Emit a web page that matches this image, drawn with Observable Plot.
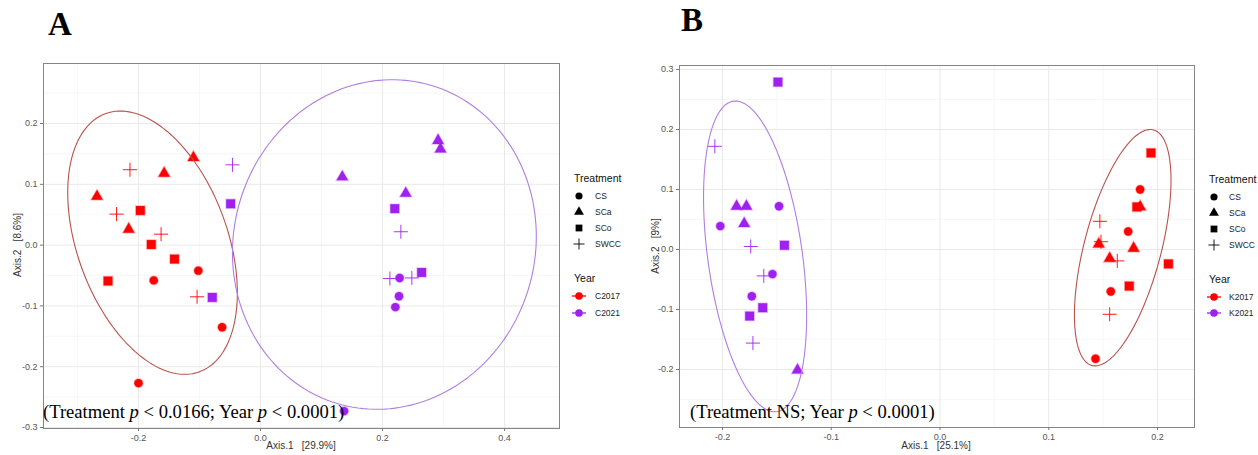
<!DOCTYPE html>
<html><head><meta charset="utf-8">
<script src="https://cdn.jsdelivr.net/npm/d3@7"></script>
<script src="https://cdn.jsdelivr.net/npm/@observablehq/plot@0.6"></script>
<style>
body{margin:0;background:#fff;}
#root{position:relative;width:1258px;height:455px;overflow:hidden;font-family:"Liberation Sans",Arial,sans-serif;}
#root > svg, #root > div{position:absolute;}
</style></head><body><div id="root"></div>
<script>
// ---------- shared categories ----------
const treatments = ["CS", "SCa", "SCo", "SWCC"];
const treatmentSymbols = ["circle", "triangle", "square", "plus"];
const red = "#ff0000", purple = "#a020f0";

// ---------- Panel A (C2017 / C2021) ----------
const yearsA = ["C2017", "C2021"];
const aTreatment = ["SCa","SCa","SCa","SCa","SWCC","SWCC","SWCC","SWCC","SCo","SCo","SCo","SCo","CS","CS","CS","CS",
                    "SWCC","SCo","SCo","SCa","SCa","SCa","SCa","SCo","SWCC","SCo","SWCC","SWCC","CS","CS","CS","CS"];
const aYear = ["C2017","C2017","C2017","C2017","C2017","C2017","C2017","C2017","C2017","C2017","C2017","C2017","C2017","C2017","C2017","C2017",
               "C2021","C2021","C2021","C2021","C2021","C2021","C2021","C2021","C2021","C2021","C2021","C2021","C2021","C2021","C2021","C2021"];
const aAxis1 = [-0.268,-0.216,-0.158,-0.110,-0.214,-0.236,-0.163,-0.104,-0.197,-0.179,-0.141,-0.250,-0.175,-0.102,-0.063,-0.200,
                -0.046,-0.049,-0.079,0.134,0.291,0.295,0.238,0.220,0.230,0.264,0.212,0.248,0.228,0.227,0.221,0.137];
const aAxis2 = [0.080,0.026,0.118,0.144,0.124,0.051,0.018,-0.085,0.057,0.001,-0.023,-0.059,-0.058,-0.042,-0.135,-0.227,
                0.132,0.068,-0.086,0.112,0.172,0.158,0.085,0.060,0.022,-0.045,-0.055,-0.054,-0.054,-0.084,-0.102,-0.273];
// 95% ellipses: centre, half-extents, correlation
const aEllYear = ["C2017", "C2021"];
const aEllCx = [-0.177, 0.203];
const aEllCy = [0.004, 0.001];
const aEllSx = [0.139, 0.249];
const aEllSy = [0.2165, 0.271];
const aEllRho = [-0.38, 0.05];
const aXTicks = [-0.2, 0.0, 0.2, 0.4];
const aXMinor = [-0.3, -0.1, 0.1, 0.3];
const aYTicks = [-0.3, -0.2, -0.1, 0.0, 0.1, 0.2];
const aYMinor = [-0.25, -0.15, -0.05, 0.05, 0.15, 0.25];

// ---------- Panel B (K2017 / K2021) ----------
const yearsB = ["K2017", "K2021"];
const bTreatment = ["SCo","SWCC","SCa","SCa","SCa","CS","CS","SWCC","SCo","SWCC","CS","CS","SCo","SCo","SWCC","SCa",
                    "SCo","CS","SCo","SCa","SWCC","CS","SCa","SWCC","SCa","SCa","SWCC","SCo","SCo","CS","SWCC","CS"];
const bYear = ["K2021","K2021","K2021","K2021","K2021","K2021","K2021","K2021","K2021","K2021","K2021","K2021","K2021","K2021","K2021","K2021",
               "K2017","K2017","K2017","K2017","K2017","K2017","K2017","K2017","K2017","K2017","K2017","K2017","K2017","K2017","K2017","K2017"];
const bAxis1 = [-0.149,-0.207,-0.187,-0.178,-0.180,-0.202,-0.148,-0.174,-0.143,-0.162,-0.154,-0.173,-0.163,-0.175,-0.172,-0.131,
                0.194,0.184,0.181,0.184,0.147,0.173,0.146,0.148,0.178,0.156,0.163,0.210,0.174,0.157,0.156,0.143];
const bAxis2 = [0.279,0.172,0.072,0.072,0.043,0.039,0.072,0.005,0.007,-0.044,-0.041,-0.078,-0.097,-0.111,-0.156,-0.201,
                0.161,0.100,0.071,0.071,0.047,0.030,0.009,0.013,0.002,-0.015,-0.019,-0.024,-0.061,-0.070,-0.108,-0.182];
const bEllYear = ["K2017", "K2021"];
const bEllCx = [0.168, -0.170];
const bEllCy = [0.003, -0.0115];
const bEllSx = [0.0444, 0.0474];
const bEllSy = [0.197, 0.259];
const bEllRho = [0.57, -0.38];
const bXTicks = [-0.2, -0.1, 0.0, 0.1, 0.2];
const bXMinor = [-0.15, -0.05, 0.05, 0.15];
const bYTicks = [-0.2, -0.1, 0.0, 0.1, 0.2, 0.3];
const bYMinor = [-0.25, -0.15, -0.05, 0.05, 0.15, 0.25];

// ---------- helpers ----------
const symR = {CS: 4.2, SCa: 4.3, SCo: 5.0, SWCC: 4.6};
function rows(tr, yr, xs, ys) {
  return tr.map((t, i) => ({treatment: t, year: yr[i], x: xs[i], y: ys[i]}));
}
function ellipseOutline(yrs, cx, cy, sx, sy, rho) {
  const out = [];
  yrs.forEach((yr, k) => {
    const s = Math.sqrt(1 - rho[k] * rho[k]);
    for (let a = 0; a <= 360; a += 2) {
      const t = a * Math.PI / 180;
      out.push({year: yr,
        x: cx[k] + sx[k] * Math.cos(t),
        y: cy[k] + sy[k] * (rho[k] * Math.cos(t) + s * Math.sin(t))});
    }
  });
  return out;
}
const fmt = d => d.toFixed(1);

function panel({pts, ell, years, xDomain, yDomain, xTicks, xMinor, yTicks, yMinor, width, ml, mr, mt, mb, ellColors}) {
  const filled = pts.filter(d => d.treatment !== "SWCC");
  const plus = pts.filter(d => d.treatment === "SWCC");
  return Plot.plot({
    width, height: 455,
    marginLeft: ml, marginRight: mr, marginTop: mt, marginBottom: mb,
    x: {domain: xDomain},
    y: {domain: yDomain},
    r: {type: "identity"},
    color: {domain: years, range: [red, purple]},
    symbol: {domain: treatments, range: treatmentSymbols},
    style: {fontFamily: "Liberation Sans, Arial, sans-serif", fontSize: "9px", color: "#555", background: "transparent"},
    marks: [
      Plot.ruleX(xMinor, {stroke: "#f4f4f4", strokeWidth: 0.7}),
      Plot.ruleY(yMinor, {stroke: "#f4f4f4", strokeWidth: 0.7}),
      Plot.ruleX(xTicks, {stroke: "#e9e9e9", strokeWidth: 1}),
      Plot.ruleY(yTicks, {stroke: "#e9e9e9", strokeWidth: 1}),
      Plot.dot(filled, {x: "x", y: "y", symbol: "treatment", fill: "year", stroke: "year",
        strokeOpacity: 0.3, strokeWidth: 1.6, r: d => symR[d.treatment]}),
      Plot.dot(plus, {x: "x", y: "y", symbol: "treatment", stroke: "year", strokeWidth: 0.9,
        r: d => symR[d.treatment]}),
      Plot.line(ell, {x: "x", y: "y", z: "year", stroke: d => ellColors[d.year], strokeWidth: 1.1, curve: "linear"}),
      Plot.frame({stroke: "#858585", strokeWidth: 1}),
      Plot.axisX(xTicks, {tickFormat: fmt, tickSize: 3, tickPadding: 3, label: null, stroke: "#777"}),
      Plot.axisY(yTicks, {tickFormat: fmt, tickSize: 3, tickPadding: 3, label: null, stroke: "#777"})
    ]
  });
}

const root = document.getElementById("root");

const plotA = panel({
  pts: rows(aTreatment, aYear, aAxis1, aAxis2),
  ell: ellipseOutline(aEllYear, aEllCx, aEllCy, aEllSx, aEllSy, aEllRho),
  years: yearsA,
  xDomain: [-0.3557, 0.490], yDomain: [-0.3016, 0.2987],
  xTicks: aXTicks, xMinor: aXMinor, yTicks: aYTicks, yMinor: aYMinor,
  width: 562, ml: 43, mr: 3, mt: 63, mb: 27,
  ellColors: {C2017: "#b9524d", C2021: "#b07ee0"}
});
plotA.style.left = "0px"; plotA.style.top = "0px";
root.appendChild(plotA);

const plotB = panel({
  pts: rows(bTreatment, bYear, bAxis1, bAxis2),
  ell: ellipseOutline(bEllYear, bEllCx, bEllCy, bEllSx, bEllSy, bEllRho),
  years: yearsB,
  xDomain: [-0.2395, 0.234], yDomain: [-0.2967, 0.3067],
  xTicks: bXTicks, xMinor: bXMinor, yTicks: bYTicks, yMinor: bYMinor,
  width: 560, ml: 39, mr: 6, mt: 65, mb: 28,
  ellColors: {K2017: "#b9524d", K2021: "#b07ee0"}
});
plotB.style.left = "640px"; plotB.style.top = "0px";
root.appendChild(plotB);

// ---------- overlay: panel letters, axis titles, notes, legends ----------
const svg = d3.select(root).append("svg")
  .attr("width", 1258).attr("height", 455)
  .style("left", "0px").style("top", "0px")
  .style("pointer-events", "none");

const serif = "Liberation Serif, Times New Roman, serif";
const sans = "Liberation Sans, Arial, sans-serif";

svg.append("text").attr("x", 48).attr("y", 35).text("A")
  .attr("font-family", serif).attr("font-weight", "bold").attr("font-size", 33);
svg.append("text").attr("x", 681).attr("y", 31).text("B")
  .attr("font-family", serif).attr("font-weight", "bold").attr("font-size", 33);

function axisTitles(cx, bottomY, leftX, cy, xt, yt) {
  svg.append("text").attr("x", cx).attr("y", bottomY).attr("text-anchor", "middle")
    .attr("font-family", sans).attr("font-size", 10).attr("fill", "#333")
    .attr("xml:space", "preserve").text(xt);
  svg.append("text").attr("transform", `translate(${leftX},${cy}) rotate(-90)`).attr("text-anchor", "middle")
    .attr("font-family", sans).attr("font-size", 10).attr("fill", "#333")
    .attr("xml:space", "preserve").text(yt);
}
axisTitles(301, 449, 21, 245, "Axis.1\u00a0\u00a0 [29.9%]", "Axis.2\u00a0\u00a0 [8.6%]");
axisTitles(936, 449, 659, 246, "Axis.1\u00a0\u00a0 [25.1%]", "Axis.2\u00a0\u00a0 [9%]");

function note(x, parts) {
  const t = svg.append("text").attr("x", x).attr("y", 418)
    .attr("font-family", serif).attr("font-size", 18.6).attr("fill", "#000");
  parts.forEach(([s, it]) => t.append("tspan").attr("font-style", it ? "italic" : "normal")
    .attr("xml:space", "preserve").text(s));
}
note(43, [["(Treatment ", 0], ["p", 1], [" < 0.0166; Year ", 0], ["p", 1], [" < 0.0001)", 0]]);
note(690, [["(Treatment NS; Year ", 0], ["p", 1], [" < 0.0001)", 0]]);

const legendSym = {
  CS: d3.symbol(d3.symbolCircle, 40),
  SCa: d3.symbol(d3.symbolTriangle, 42),
  SCo: d3.symbol(d3.symbolSquare, 46),
  SWCC: d3.symbol(d3.symbolPlus, 42)
};
function legend(x0, symX, labX, titleY, itemYs, yearTitleY, yearYs, yearLabels) {
  svg.append("text").attr("x", x0).attr("y", titleY).attr("dy", "0.35em")
    .attr("font-family", sans).attr("font-size", 10.5).attr("fill", "#111").text("Treatment");
  treatments.forEach((t, i) => {
    const g = svg.append("path").attr("transform", `translate(${symX},${itemYs[i]})`)
      .attr("d", legendSym[t]());
    if (t === "SWCC") g.attr("fill", "none").attr("stroke", "#000").attr("stroke-width", 0.9);
    else g.attr("fill", "#000");
    svg.append("text").attr("x", labX).attr("y", itemYs[i]).attr("dy", "0.35em")
      .attr("font-family", sans).attr("font-size", 8.5).attr("fill", "#222").text(t);
  });
  svg.append("text").attr("x", x0).attr("y", yearTitleY).attr("dy", "0.35em")
    .attr("font-family", sans).attr("font-size", 10.5).attr("fill", "#111").text("Year");
  yearLabels.forEach((yl, i) => {
    const c = i === 0 ? red : purple;
    svg.append("line").attr("x1", symX - 7).attr("x2", symX + 7).attr("y1", yearYs[i]).attr("y2", yearYs[i])
      .attr("stroke", c).attr("stroke-width", 1.3);
    svg.append("circle").attr("cx", symX).attr("cy", yearYs[i]).attr("r", 3.8).attr("fill", c);
    svg.append("text").attr("x", labX).attr("y", yearYs[i]).attr("dy", "0.35em")
      .attr("font-family", sans).attr("font-size", 8.5).attr("fill", "#222").text(yl);
  });
}
legend(574, 579, 595, 178, [196, 212, 228, 244], 278, [296, 313], yearsA);
legend(1209, 1214, 1229, 179, [197, 213, 229, 245], 279, [297, 313], yearsB);
</script>
</body></html>
